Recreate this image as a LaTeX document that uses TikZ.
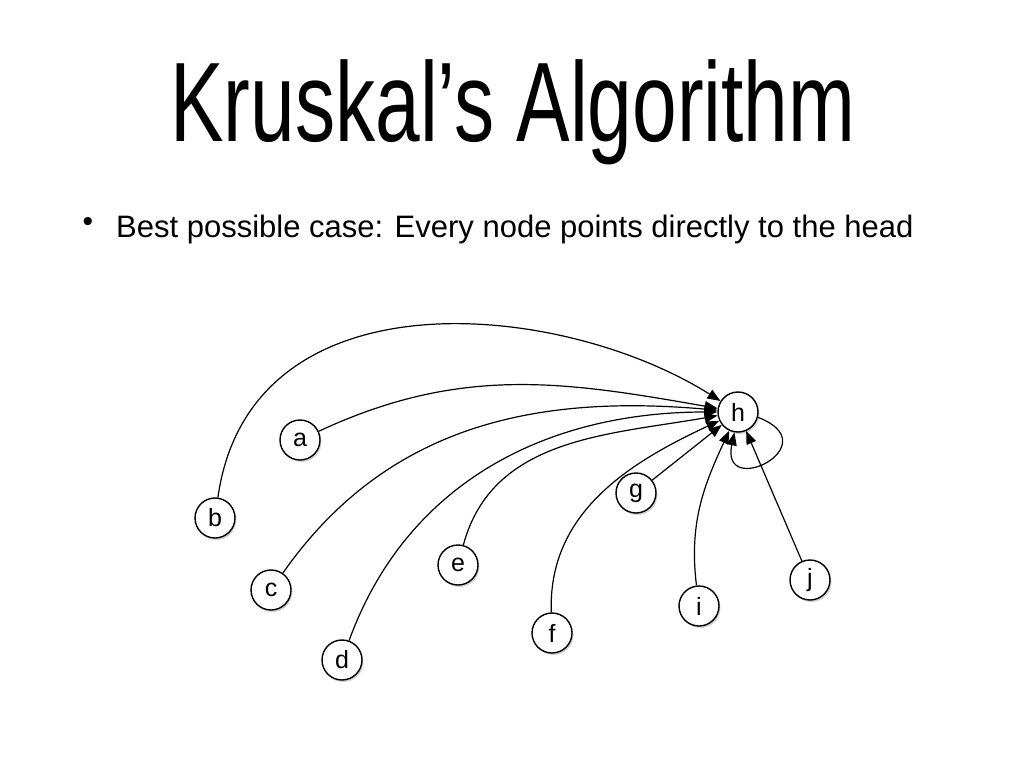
\documentclass[tikz,border=0pt]{standalone}
\usepackage{fontspec}
\setmainfont{Liberation Sans}
\usetikzlibrary{shadows,arrows.meta}
\begin{document}
\begin{tikzpicture}[x=1pt,y=-1pt,
  vtx/.style={circle,draw,line width=1.4pt,fill=white,minimum size=40pt,inner sep=0pt,font=\fontsize{25}{27}\selectfont,
    drop shadow={shadow xshift=1.5pt,shadow yshift=-2pt,opacity=0.35}},
  edge/.style={line width=1.2pt,-{Triangle[length=13pt,width=10pt]}}]
\useasboundingbox (0,0) rectangle (1024,768);
\node[xscale=0.71] (title) at (513,112) {\fontsize{113}{120}\selectfont Kruskal\symbol{39}s Algorithm};
\node (bul) at (88,224) {\fontsize{30}{32}\selectfont\textbullet};
\node[anchor=west,inner sep=0pt] (body) at (116,229) {\fontsize{31}{34}\selectfont Best possible case: Every node points directly to the head};
\node[vtx] (h) at (738,412) {h};
\node[vtx] (a) at (300,440) {a};
\node[vtx] (b) at (215,518) {b};
\node[vtx] (c) at (271,590) {c};
\node[vtx] (d) at (342,660) {d};
\node[vtx] (e) at (458,565) {e};
\node[vtx] (f) at (552,633) {f};
\node[vtx] (g) at (636,493) {g};
\node[vtx] (i) at (699,606) {i};
\node[vtx] (j) at (810,580) {j};
\draw[edge] (b) .. controls (250,270) and (560,300) .. (h);
\draw[edge] (a) to[out=25,in=170] (h);
\draw[edge] (c) to[out=55,in=175] (h);
\draw[edge] (d) to[out=70,in=180] (h);
\draw[edge] (e) to[out=75,in=190] (h);
\draw[edge] (f) to[out=92,in=205] (h);
\draw[edge] (g) -- (h);
\draw[edge] (i) to[out=97,in=245] (h);
\draw[edge] (j) -- (h);
\draw[edge] (h.-15) .. controls (830,445) and (720,500) .. (h.-100);
\end{tikzpicture}
\end{document}
